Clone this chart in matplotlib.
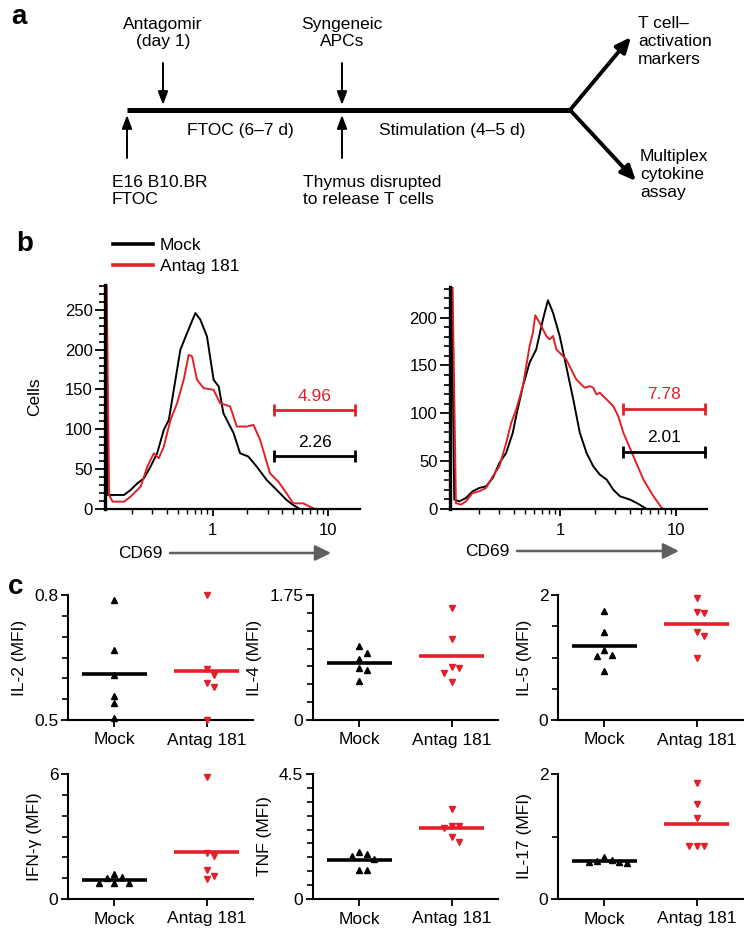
import matplotlib
matplotlib.use('Agg')
import matplotlib.pyplot as plt
import numpy as np
from matplotlib.ticker import FixedLocator, NullFormatter, MultipleLocator

plt.rcParams['font.family'] = ['Liberation Sans', 'DejaVu Sans']

W, H = 750, 932
RED = '#e3202a'
GREY = '#5f5f5f'

# ---- panel b data: CD69 histograms (x = CD69 intensity, y = cells) ----
h1_mock_x = [0.118, 0.124, 0.131, 0.171, 0.195, 0.223, 0.254, 0.290, 0.331, 0.378,
             0.418, 0.461, 0.526, 0.601, 0.709, 0.783, 0.894, 1.02, 1.13, 1.24,
             1.52, 1.73, 2.04, 2.41, 2.94, 3.59, 4.37, 4.99, 5.70]
h1_mock_y = [281, 17.6, 17.6, 17.6, 23.9, 32.2, 38.5, 53.2, 69.9, 99.3,
             111.8, 149.5, 199.8, 220.7, 245.8, 237.5, 216.5, 162.1, 153.7, 120.2,
             95.1, 69.9, 65.8, 53.2, 36.4, 23.9, 11.3, 5.0, 0]
h1_ant_x = [0.121, 0.127, 0.136, 0.171, 0.195, 0.238, 0.272, 0.310, 0.342, 0.378,
            0.432, 0.493, 0.562, 0.621, 0.664, 0.733, 0.836, 1.02, 1.16, 1.42,
            1.62, 1.98, 2.26, 2.58, 3.14, 3.71, 4.37, 4.99, 6.09, 6.95, 7.67]
h1_ant_y = [281, 17.6, 9.2, 9.2, 15.5, 28.1, 53.2, 69.9, 63.7, 78.3,
            111.8, 132.8, 162.1, 193.5, 191.4, 162.1, 151.6, 149.5, 132.8, 128.6,
            103.4, 103.4, 105.5, 86.7, 44.8, 34.3, 19.7, 7.1, 7.1, 2.9, 0]

h2_mock_x = [0.117, 0.123, 0.136, 0.155, 0.177, 0.202, 0.231, 0.264, 0.301, 0.344,
             0.392, 0.419, 0.479, 0.547, 0.624, 0.713, 0.787, 0.870, 0.993, 1.13,
             1.30, 1.48, 1.69, 1.93, 2.20, 2.52, 2.87, 3.28, 4.00, 4.57, 5.22, 5.58]
h2_mock_y = [232, 9.8, 8.0, 11.5, 18.5, 22.0, 23.7, 32.5, 48.2, 58.6,
             79.6, 97.0, 128.4, 152.9, 166.8, 198.2, 218.1, 205.2, 180.8, 149.4,
             114.5, 79.6, 58.6, 44.7, 35.9, 30.7, 20.2, 13.3, 9.8, 6.3, 2.1, 0]
h2_ant_x = [0.119, 0.127, 0.140, 0.155, 0.177, 0.202, 0.231, 0.264, 0.301, 0.344,
            0.380, 0.419, 0.479, 0.547, 0.584, 0.612, 0.667, 0.762, 0.814, 0.870,
            0.930, 1.13, 1.38, 1.63, 1.80, 1.93, 2.06, 2.20, 2.35, 2.69,
            2.87, 3.17, 3.51, 4.28, 5.22, 6.37, 7.52, 7.77]
h2_ant_y = [232.4, 6.3, 4.5, 8.0, 16.8, 18.5, 22.0, 34.2, 44.7, 69.1,
            90.0, 104.0, 128.4, 170.3, 184.3, 202.4, 194.7, 180.8, 177.3, 180.8,
            166.8, 156.4, 135.4, 126.7, 128.4, 126.7, 119.7, 121.5, 118.0, 111.0,
            107.5, 97.0, 79.6, 55.1, 30.7, 13.3, 1.0, 0]

# gates: x range, bar height (antag, mock), percentages
gate1_x = [3.42, 17.1]
gate1_y = [124, 66]
gate1_txt = ['4.96', '2.26']
gate2_x = [3.49, 17.8]
gate2_y = [105, 60]
gate2_txt = ['7.78', '2.01']

# ---- panel c data: cytokine MFI ----
groups = ['Mock', 'Antag 181']
il2_mock = [0.788, 0.668, 0.608, 0.558, 0.540, 0.506]
il2_ant = [0.800, 0.622, 0.608, 0.590, 0.580, 0.500]
il4_mock = [1.036, 0.943, 0.854, 0.723, 0.700, 0.551]
il4_ant = [1.563, 1.129, 0.737, 0.723, 0.663, 0.537]
il5_mock = [1.741, 1.416, 1.124, 1.043, 1.027, 0.784]
il5_ant = [1.957, 1.730, 1.719, 1.416, 1.351, 1.000]
ifn_mock = [1.21, 1.05, 1.00, 0.77, 0.77, 0.77]
ifn_ant = [5.84, 2.23, 2.07, 1.40, 1.12, 0.97]
tnf_mock = [1.675, 1.614, 1.553, 1.456, 1.030, 1.030]
tnf_ant = [3.25, 2.646, 2.646, 2.55, 2.245, 2.04]
il17_mock = [0.68, 0.62, 0.61, 0.60, 0.59, 0.57]
il17_ant = [1.862, 1.521, 1.303, 0.851, 0.851, 0.851]

cyto_labels = ['IL-2 (MFI)', 'IL-4 (MFI)', 'IL-5 (MFI)', 'IFN-γ (MFI)', 'TNF (MFI)', 'IL-17 (MFI)']
cyto_data = [(il2_mock, il2_ant), (il4_mock, il4_ant), (il5_mock, il5_ant),
             (ifn_mock, ifn_ant), (tnf_mock, tnf_ant), (il17_mock, il17_ant)]
cyto_ylim = [(0.5, 0.8), (0, 1.75), (0, 2), (0, 6), (0, 4.5), (0, 2)]
cyto_yticklabels = [['0.5', '0.8'], ['0', '1.75'], ['0', '2'], ['0', '6'], ['0', '4.5'], ['0', '2']]
cyto_minor = [0.05, 0.25, 0.5, 1, 0.5, 1]


fig = plt.figure(figsize=(W / 100, H / 100), dpi=100)


def add_px_axes(left, top, right, bottom):
    return fig.add_axes([left / W, 1 - bottom / H, (right - left) / W, (bottom - top) / H])


# overlay in pixel coordinates for schematic / annotations
ov = fig.add_axes([0, 0, 1, 1])
ov.set_xlim(0, W)
ov.set_ylim(H, 0)
ov.axis('off')

FS = 12.5


def arrow(p0, p1, lw, color='k', hl=0.8, hw=0.3, ms=10):
    ov.annotate('', xy=p1, xytext=p0,
                arrowprops=dict(arrowstyle='-|>,head_length=%g,head_width=%g' % (hl, hw),
                                lw=lw, color=color, shrinkA=0, shrinkB=0,
                                mutation_scale=ms))


# ---------------- panel a ----------------
ov.text(19, 17, 'a', fontsize=20, fontweight='bold', ha='center', va='center')
ov.plot([127, 571], [110, 110], color='k', lw=3.6, solid_capstyle='butt')
arrow((570, 110), (631, 37), 2.8, hl=0.9, hw=0.4)
arrow((570, 110), (636, 181), 2.8, hl=0.9, hw=0.4)
arrow((163, 63), (163, 105), 1.4)
arrow((342, 63), (342, 105), 1.4)
arrow((127, 158), (127, 115), 1.4)
arrow((342, 158), (342, 115), 1.4)

ov.text(163, 33, 'Antagomir\n(day 1)', fontsize=FS, ha='center', va='center', linespacing=1.2)
ov.text(342, 33, 'Syngeneic\nAPCs', fontsize=FS, ha='center', va='center', linespacing=1.2)
ov.text(240, 131, 'FTOC (6–7 d)', fontsize=FS, ha='center', va='center')
ov.text(452, 131, 'Stimulation (4–5 d)', fontsize=FS, ha='center', va='center')
ov.text(112, 191, 'E16 B10.BR\nFTOC', fontsize=FS, ha='left', va='center', linespacing=1.2)
ov.text(303, 191, 'Thymus disrupted\nto release T cells', fontsize=FS, ha='left', va='center',
        linespacing=1.2)
ov.text(638, 41, 'T cell–\nactivation\nmarkers', fontsize=FS, ha='left', va='center',
        linespacing=1.25)
ov.text(640, 175, 'Multiplex\ncytokine\nassay', fontsize=FS, ha='left', va='center',
        linespacing=1.25)

# ---------------- panel b ----------------
ov.text(25, 244, 'b', fontsize=20, fontweight='bold', ha='center', va='center')
ov.text(35, 397, 'Cells', fontsize=FS, rotation=90, ha='center', va='center')

minor_x = [0.2, 0.3, 0.4, 0.5, 0.6, 0.7, 0.8, 0.9, 2, 3, 4, 5, 6, 7, 8, 9]


def hist_axes(ax, ymax, xlim):
    ax.set_xscale('log')
    ax.set_xlim(*xlim)
    ax.set_ylim(0, ymax)
    ax.set_xticks([1, 10], ['1', '10'])
    ax.xaxis.set_minor_locator(FixedLocator(minor_x))
    ax.xaxis.set_minor_formatter(NullFormatter())
    ax.yaxis.set_major_locator(MultipleLocator(50))
    ax.yaxis.set_minor_locator(MultipleLocator(10))
    for s in ['top', 'right']:
        ax.spines[s].set_visible(False)
    ax.spines['left'].set_linewidth(2.4)
    ax.spines['bottom'].set_linewidth(1.6)
    ax.tick_params(axis='y', which='major', length=7, width=1.3, labelsize=12, pad=2)
    ax.tick_params(axis='y', which='minor', length=4, width=1.2)
    ax.tick_params(axis='x', which='major', length=5, width=1.3, labelsize=12, pad=5)
    ax.tick_params(axis='x', which='minor', length=3.5, width=1.0)
    ax.patch.set_visible(False)


def gate(ax, xr, ys, txts):
    xc = np.sqrt(xr[0] * xr[1])
    for y, t, c in zip(ys, txts, [RED, 'k']):
        ax.plot(xr, [y, y], color=c, lw=2, marker='|', ms=8, mew=2, clip_on=False)
        ax.annotate(t, (xc, y), xytext=(0, 4.5), textcoords='offset points',
                    ha='center', va='bottom', fontsize=FS, color=c)


axb1 = add_px_axes(105, 285, 360, 509)
hist_axes(axb1, 281, (0.117, 18.9))
l_mock, = axb1.plot(h1_mock_x, h1_mock_y, color='k', lw=1.4)
l_ant, = axb1.plot(h1_ant_x, h1_ant_y, color=RED, lw=1.4)
gate(axb1, gate1_x, gate1_y, gate1_txt)

axb2 = add_px_axes(450, 287, 707, 509)
hist_axes(axb2, 232, (0.113, 18.4))
axb2.plot(h2_mock_x, h2_mock_y, color='k', lw=1.4)
axb2.plot(h2_ant_x, h2_ant_y, color=RED, lw=1.4)
gate(axb2, gate2_x, gate2_y, gate2_txt)

leg = fig.legend([l_mock, l_ant], ['Mock', 'Antag 181'], loc='upper left',
                 bbox_to_anchor=(113 / W, 1 - 238 / H), frameon=False, fontsize=FS,
                 handlelength=2.3, handletextpad=0.4, labelspacing=0.35,
                 borderpad=0, borderaxespad=0)
for h in leg.legend_handles:
    h.set_linewidth(2.6)

# CD69 arrows
ov.text(140, 553, 'CD69', fontsize=FS, ha='center', va='center')
arrow((170, 553), (331, 553), 1.8, color=GREY, hl=0.95, hw=0.47)
ov.text(487, 551, 'CD69', fontsize=FS, ha='center', va='center')
arrow((517, 551), (679, 551), 1.8, color=GREY, hl=0.95, hw=0.47)

# ---------------- panel c ----------------
ov.text(16, 587, 'c', fontsize=20, fontweight='bold', ha='center', va='center')

col_left = [68, 313, 558]
row_top = [595, 774]
AX_W, AX_H = 185, 125
STEP_PX = 7.5
PX_PER_CAT = 93


def swarm(vals, ylim):
    placed, offs = [], []
    for v in vals:
        ypx = (v - ylim[0]) / (ylim[1] - ylim[0]) * AX_H
        xpx = 0
        for k in [0, 1, -1, 2, -2, 3, -3]:
            xpx = k * STEP_PX
            if all(abs(ypx - py) >= 7 or abs(xpx - px) >= STEP_PX * 0.9 for px, py in placed):
                break
        placed.append((xpx, ypx))
        offs.append(xpx / PX_PER_CAT)
    return np.array(offs)


for i, (lab, (mock, ant), ylim, ytl, mstep) in enumerate(
        zip(cyto_labels, cyto_data, cyto_ylim, cyto_yticklabels, cyto_minor)):
    r, c = divmod(i, 3)
    ax = add_px_axes(col_left[c], row_top[r], col_left[c] + AX_W, row_top[r] + AX_H)
    for xi, (vals, col, mk) in enumerate([(mock, 'k', '^'), (ant, RED, 'v')]):
        offs = swarm(vals, ylim)
        ax.plot(xi + offs, vals, ls='none', marker=mk, ms=5, color=col,
                clip_on=False, zorder=4)
        m = np.mean(vals)
        ax.plot([xi - 0.35, xi + 0.35], [m, m], color=col, lw=2.6,
                solid_capstyle='butt', zorder=3)
    ax.set_xlim(-0.5, 1.5)
    ax.set_ylim(*ylim)
    ax.set_xticks([0, 1], groups)
    ax.set_yticks(list(ylim), ytl)
    ax.yaxis.set_minor_locator(MultipleLocator(mstep))
    for s in ['top', 'right']:
        ax.spines[s].set_visible(False)
    for s in ['left', 'bottom']:
        ax.spines[s].set_linewidth(1.5)
    ax.tick_params(axis='both', which='major', length=5, width=1.3, labelsize=FS)
    ax.tick_params(axis='x', pad=4)
    ax.tick_params(axis='y', pad=2)
    ax.tick_params(axis='y', which='minor', length=4, width=1.2)
    ax.set_ylabel(lab, fontsize=FS, labelpad=5)
    ax.patch.set_visible(False)

fig.savefig('out.png', dpi=100)
